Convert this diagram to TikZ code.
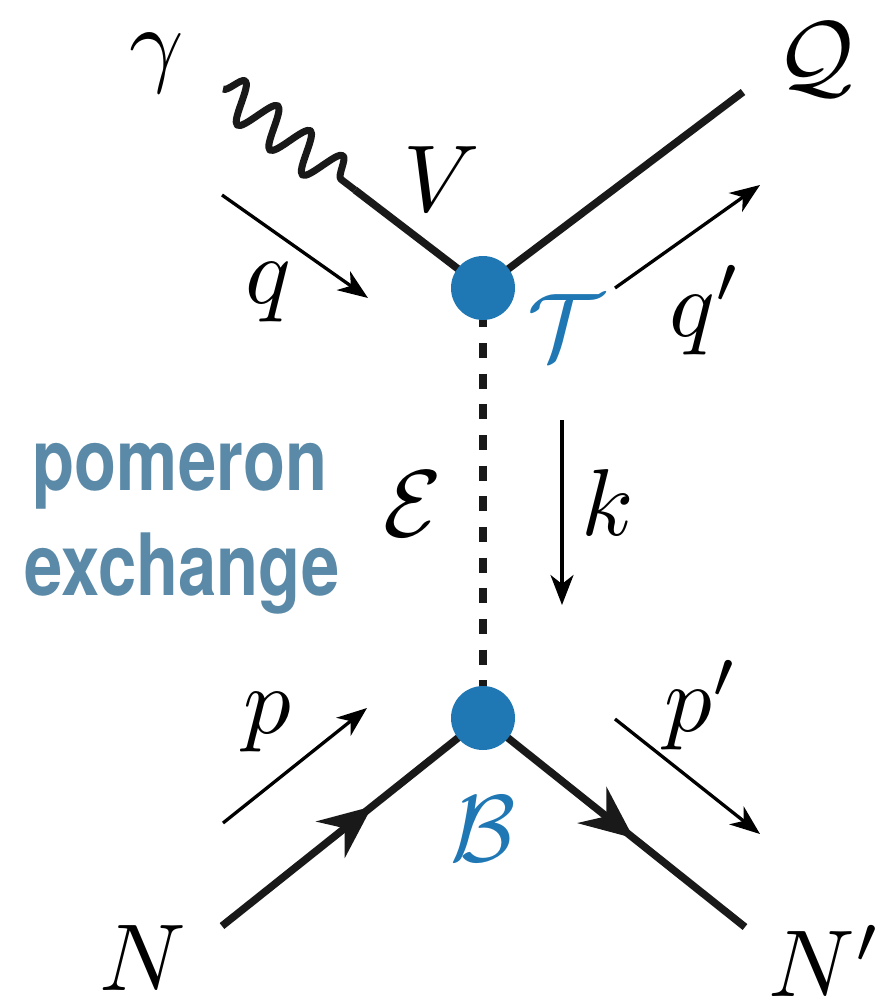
\documentclass[tikz,border=0pt]{standalone}
\usepackage{fontspec}
\usetikzlibrary{arrows.meta,decorations.pathmorphing,decorations.markings}
\newfontfamily\pomfont{TeX Gyre Heros}
\definecolor{vblue}{HTML}{1F77B4}
\definecolor{pomblue}{RGB}{91,138,168}
\tikzset{
  thickline/.style={line width=7.5pt, draw=black!90},
  photon/.style={line width=7pt, draw=black!90, line join=round, decorate,
    decoration={snake, segment length=41pt, amplitude=20pt}},
  fermion/.style={thickline, postaction={decorate},
    decoration={markings, mark=at position 0.575 with
      {\arrow{Stealth[length=53pt,width=46pt,inset=18pt]}}}},
  exchline/.style={line width=8pt, draw=black!90,
    dash pattern=on 15pt off 15.67pt, dash phase=6.3pt},
  momentum/.style={line width=3.3pt, -{Stealth[length=30pt,width=23pt,inset=9pt]}},
  vertexdot/.style={circle, fill=vblue, minimum size=64pt, inner sep=0pt},
  lab/.style={inner sep=0pt, scale=9.5},
  bluelab/.style={lab, text=vblue},
  pomtext/.style={inner sep=0pt, text=pomblue, xscale=0.8,
    font=\pomfont\bfseries\fontsize{86}{100}\selectfont, anchor=base}
}
\begin{document}
\begin{tikzpicture}[x=1pt,y=-1pt]
\useasboundingbox (0,0) rectangle (875,1001);
% vertex centres and free ends
\coordinate (vTc) at (483,288);
\coordinate (vBc) at (483,718);
\coordinate (gam) at (223,89);
\coordinate (kink) at (355,190);
\coordinate (Qend) at (743,92);
\coordinate (Nend) at (222,926);
\coordinate (Npend) at (745,927);
% momentum arrow ends
\coordinate (qa) at (222,195);  \coordinate (qb) at (368,298);
\coordinate (qpa) at (615,288); \coordinate (qpb) at (760,185);
\coordinate (ka) at (562,420);  \coordinate (kb) at (562,605);
\coordinate (pa) at (223,823);  \coordinate (pb) at (367,708);
\coordinate (ppa) at (615,719); \coordinate (ppb) at (760,834);
% lines
\draw[photon] (gam) -- (kink);
\draw[thickline] (kink) -- (vTc);
\draw[thickline] (vTc) -- (Qend);
\draw[exchline] (vTc) -- (vBc);
\draw[fermion] (Nend) -- (vBc);
\draw[fermion] (vBc) -- (Npend);
% vertices
\node[vertexdot] (vT) at (vTc) {};
\node[vertexdot] (vB) at (vBc) {};
% momenta
\draw[momentum] (qa) -- (qb);
\draw[momentum] (qpa) -- (qpb);
\draw[momentum] (ka) -- (kb);
\draw[momentum] (pa) -- (pb);
\draw[momentum] (ppa) -- (ppb);
% labels
\node[lab] (lgam) at (157,63) {$\gamma$};
\node[lab] (lV) at (442,179) {$V$};
\node[lab] (lQ) at (815,60) {$\mathcal{Q}$};
\node[lab] (lq) at (268,292) {$q$};
\node[lab] (lqp) at (706,310) {$q'$};
\node[bluelab] (lT) at (565,327) {$\mathcal{T}$};
\node[lab] (lE) at (413,504) {$\mathcal{E}$};
\node[lab] (lk) at (608,503) {$k$};
\node[lab] (lp) at (267,722) {$p$};
\node[lab] (lpp) at (702,705) {$p'$};
\node[bluelab] (lB) at (483,829) {$\mathcal{B}$};
\node[lab] (lN) at (143,958) {$N$};
\node[lab] (lNp) at (825,961) {$N'$};
\node[pomtext] (pom) at (180,490) {pomeron};
\node[pomtext] (exch) at (182,595) {exchange};
\end{tikzpicture}
\end{document}
